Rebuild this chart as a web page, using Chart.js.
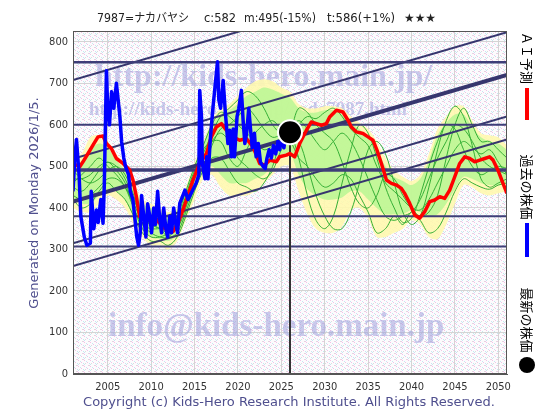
<!DOCTYPE html>
<html><head><meta charset="utf-8">
<script src="https://cdn.jsdelivr.net/npm/chart.js@4/dist/chart.umd.min.js"></script>
<style>html,body{margin:0;padding:0;background:#fff;}canvas{display:block;}</style>
</head><body>
<canvas id="c" width="560" height="420"></canvas>
<script>
// ---------- DATA ----------
const xTickLabels = [2005,2010,2015,2020,2025,2030,2035,2040,2045,2050];
const yTickLabels = [0,100,200,300,400,500,600,700,800];

const bandYears = [2001,2002,2003,2004,2005,2006,2007,2008,2009,2010,2011,2012,2013,2014,2015,2016,2017,2018,2019,2020,2021,2022,2023,2024,2025,2026,2027,2028,2029,2030,2031,2032,2033,2034,2035,2036,2037,2038,2039,2040,2041,2042,2043,2044,2045,2046,2047,2048,2049,2050,2051];

const yellowHi = [520,530,570,575,560,530,500,460,420,410,400,390,400,450,510,560,610,640,650,670,690,705,710,705,690,680,650,640,640,645,645,640,620,605,590,560,520,490,475,465,480,530,590,620,645,645,610,580,575,570,550];
const yellowLo = [400,390,390,410,430,420,400,360,330,310,310,300,320,370,420,470,480,450,430,430,430,440,460,480,500,500,440,385,350,340,340,355,395,400,375,330,330,340,350,370,360,330,325,360,410,455,450,435,430,435,440];
const greenHi  = [505,510,540,555,545,515,490,450,410,400,390,380,395,440,500,550,600,625,635,650,670,680,690,685,675,665,640,630,630,635,635,625,605,590,570,540,500,475,465,455,470,515,575,605,625,625,595,570,560,555,540];
const greenLo  = [420,410,410,430,445,440,420,380,345,330,325,320,335,385,440,490,500,480,460,460,460,470,480,500,520,530,480,445,430,420,420,425,440,440,420,400,385,385,385,395,390,380,385,410,445,475,470,460,455,455,460];

const scen1 = [470,470,480,500,510,500,470,420,380,360,350,340,350,400,470,540,560,560,520,500,540,580,600,610,590,580,520,430,370,350,380,460,540,600,580,520,450,400,365,375,430,500,560,600,590,540,500,480,490,500,495];
const scen2 = [430,420,430,450,470,470,450,410,370,360,350,330,340,390,450,500,550,590,600,620,640,620,590,570,575,570,560,500,430,380,350,350,390,460,540,560,530,460,390,360,380,450,540,610,645,620,550,470,450,460,470];
const scen3 = [490,470,460,470,490,500,480,430,360,340,330,330,360,420,480,520,560,580,560,520,500,480,470,490,540,575,600,620,615,630,640,620,590,570,550,500,460,440,420,400,395,420,460,500,540,560,545,530,540,510,480];
const scen4 = [450,440,460,490,510,490,460,400,350,330,330,340,370,430,490,530,580,620,640,660,680,670,640,600,580,590,610,590,560,540,560,580,560,520,470,420,380,370,380,390,420,470,520,560,600,590,560,520,500,490,480];
const scen5 = [420,400,410,440,460,440,420,380,340,320,320,310,330,380,440,490,520,520,490,460,450,440,460,500,560,560,520,500,470,450,460,480,470,430,390,340,350,380,360,390,370,340,350,390,440,470,460,450,445,455,460];
const scen6 = [460,480,500,520,500,480,450,400,360,350,350,350,380,440,500,550,600,630,620,600,580,560,540,550,570,585,640,630,600,580,560,510,450,410,400,430,480,470,430,400,380,390,430,520,600,640,600,560,560,540,520];

const aiYears  = [2001.0,2001.77,2002.15,2002.73,2003.3,2003.88,2004.46,2004.85,2005.42,2006.0,2006.76,2007.53,2007.91,2008.3,2008.68,2009.46,2010.22,2011.0,2011.76,2012.52,2013.1,2013.67,2014.06,2014.82,2015.6,2016.37,2016.94,2017.52,2018.1,2018.67,2019.43,2020.2,2020.98,2021.74,2022.5,2023.09,2023.66,2024.43,2024.8,2025.58,2025.97,2026.54,2027.12,2027.89,2028.46,2029.04,2029.62,2030.19,2030.57,2031.35,2032.1,2032.68,2033.07,2033.65,2034.41,2034.99,2035.56,2036.02,2036.53,2037.11,2037.68,2038.26,2038.83,2039.21,2039.79,2040.37,2040.94,2041.52,2042.1,2042.67,2043.25,2043.82,2044.4,2044.98,2045.55,2046.13,2046.71,2047.28,2047.86,2048.44,2048.99,2049.4,2049.96,2050.54,2051.0];
const aiValues = [507,499,511,531,551,571,573,555,543,519,507,491,467,427,379,371,379,363,347,343,363,395,419,467,507,531,571,595,603,587,571,563,567,547,507,503,515,511,523,527,531,523,555,587,607,603,599,603,619,635,631,611,595,583,579,571,563,539,507,467,459,455,447,435,411,383,375,391,415,419,427,423,443,475,507,523,519,511,515,519,523,515,491,459,435];

const pastYears  = [2001.0,2001.2,2001.4,2001.7,2001.9,2002.3,2002.6,2003.0,2003.1,2003.4,2003.7,2003.9,2004.2,2004.46,2004.6,2004.85,2005.0,2005.2,2005.45,2005.7,2006.0,2006.15,2006.4,2006.6,2006.85,2007.05,2007.4,2007.6,2007.9,2008.1,2008.35,2008.55,2008.75,2008.9,2009.15,2009.4,2009.6,2009.85,2010.05,2010.3,2010.5,2010.75,2011.0,2011.2,2011.45,2011.7,2011.9,2012.15,2012.35,2012.6,2012.85,2013.05,2013.3,2013.9,2014.25,2014.8,2015.2,2015.5,2015.6,2015.8,2015.9,2016.2,2016.4,2016.55,2016.8,2017.1,2017.4,2017.65,2017.8,2018.0,2018.3,2018.55,2018.85,2019.05,2019.25,2019.45,2019.6,2019.9,2020.1,2020.4,2020.6,2020.8,2021.0,2021.25,2021.45,2021.65,2021.9,2022.1,2022.35,2022.6,2022.9,2023.15,2023.35,2023.6,2023.85,2024.1,2024.35,2024.6,2024.8,2025.05,2025.3,2025.5,2025.75,2026.0];
const pastValues = [440,520,565,480,380,330,310,315,440,350,395,365,420,363,450,730,640,600,680,640,700,670,620,560,520,500,480,440,420,380,330,310,340,430,380,330,410,380,340,400,360,440,370,340,400,350,330,380,340,400,360,340,411,443,420,443,460,480,683,620,507,470,523,470,560,636,700,752,660,640,707,630,555,587,523,590,523,620,640,683,610,555,580,640,590,545,580,523,555,510,500,495,520,540,520,550,530,560,540,565,545,575,560,582];

const latestYear = [2026.0];
const latestPrice = [582];

const levelValues = [751,600,491,380,307];
const trendStart = [708,518,415,315,260];   // value of each trend line at 2001
const trendEnd   = [1013,823,720,620,565];  // value at 2051

// ---------- helpers ----------
const pts = (xs, ys) => xs.map((x,i)=>({x:x, y:ys[i]}));
const X0 = 2001, X1 = 2051;

const datasets = [];
datasets.push({data:pts(bandYears,yellowHi), borderColor:'rgba(0,0,0,0)', borderWidth:0, pointRadius:0, fill:'+1', backgroundColor:'rgba(255,248,175,0.9)', tension:0.3, order:20});
datasets.push({data:pts(bandYears,yellowLo), borderColor:'rgba(0,0,0,0)', borderWidth:0, pointRadius:0, fill:false, tension:0.3, order:20});
datasets.push({data:pts(bandYears,greenHi), borderColor:'rgba(0,0,0,0)', borderWidth:0, pointRadius:0, fill:'+1', backgroundColor:'rgba(180,246,145,0.8)', tension:0.3, order:19});
datasets.push({data:pts(bandYears,greenLo), borderColor:'rgba(0,0,0,0)', borderWidth:0, pointRadius:0, fill:false, tension:0.3, order:19});
[scen1,scen2,scen3,scen4,scen5,scen6].forEach(s=>{
  datasets.push({data:pts(bandYears,s), borderColor:'#36b036', borderWidth:1, pointRadius:0, fill:false, tension:0.35, order:15});
});
levelValues.forEach(v=>{
  const w = (v===491) ? 3.5 : (v===751 ? 2.5 : 2);
  datasets.push({data:[{x:X0,y:v},{x:X1,y:v}], borderColor:'#3e3e78', borderWidth:w, pointRadius:0, fill:false, order:10});
});
trendStart.forEach((v,i)=>{
  datasets.push({data:[{x:X0,y:v},{x:X1,y:trendEnd[i]}], borderColor:'#36366e', borderWidth:(v===415?4:2), pointRadius:0, fill:false, order:10});
});
datasets.push({data:[{x:latestYear[0],y:0},{x:latestYear[0],y:latestPrice[0]}], borderColor:'#333', borderWidth:2, pointRadius:0, fill:false, order:9});
datasets.push({data:pts(aiYears,aiValues), borderColor:'#ff0000', borderWidth:3.5, pointRadius:0, fill:false, tension:0, order:5});
datasets.push({data:pts(pastYears,pastValues), borderColor:'#0000ff', borderWidth:3.5, pointRadius:0, fill:false, tension:0, order:4});
datasets.push({type:'scatter', data:pts(latestYear,latestPrice), pointRadius:12, pointBackgroundColor:'#000', pointBorderColor:'#fff', pointBorderWidth:2, order:1});

// ---------- plugins ----------
function makePattern(ctx){
  const t = document.createElement('canvas'); t.width=6; t.height=6;
  const c = t.getContext('2d');
  c.fillStyle='#fdfbfd'; c.fillRect(0,0,6,6);
  const pink=[[0,0],[3,2],[5,5]];
  const cyan=[[2,1],[5,3],[0,4]];
  const grey=[[1,3],[4,5]];
  c.fillStyle='#f0c4e6'; pink.forEach(p=>c.fillRect(p[0],p[1],1,1));
  c.fillStyle='#c4e8f2'; cyan.forEach(p=>c.fillRect(p[0],p[1],1,1));
  c.fillStyle='#dcdcdc'; grey.forEach(p=>c.fillRect(p[0],p[1],1,1));
  return ctx.createPattern(t,'repeat');
}
const bgPlugin = {
  id:'bg',
  beforeDraw(chart){
    const {ctx, chartArea:a} = chart;
    ctx.save();
    ctx.fillStyle = makePattern(ctx);
    ctx.fillRect(a.left, a.top, a.right-a.left, a.bottom-a.top);
    ctx.restore();
  },
  beforeDatasetsDraw(chart){
    const {ctx, chartArea:a} = chart;
    ctx.save();
    ctx.beginPath(); ctx.rect(a.left,a.top,a.right-a.left,a.bottom-a.top); ctx.clip();
    ctx.fillStyle='rgba(160,160,220,0.55)';
    ctx.textBaseline='alphabetic'; ctx.textAlign='left';
    ctx.font='bold 32px "Liberation Serif", serif';
    ctx.fillText('http://kids-hero.main.jp/', 95, 86, 385);
    ctx.font='bold 19px "Liberation Serif", serif';
    ctx.fillText('http://kids-hero.main.jp/code7987.html', 89, 115, 384);
    ctx.font='bold 33px "Liberation Serif", serif';
    ctx.fillText('info@kids-hero.main.jp', 108, 336, 359);
    ctx.restore();
  },
  afterDraw(chart){
    const {ctx, chartArea:a} = chart;
    ctx.save();
    ctx.strokeStyle='#555'; ctx.lineWidth=1;
    ctx.strokeRect(a.left+0.5, a.top+0.5, a.right-a.left-1, a.bottom-a.top-1);
    ctx.fillStyle='#222'; ctx.textBaseline='middle'; ctx.textAlign='left';
    ctx.font='12px "DejaVu Sans", "Noto Sans CJK JP", sans-serif';
    ctx.fillText('7987=ナカバヤシ', 97, 19, 92);
    ctx.fillText('c:582', 204, 19, 32);
    ctx.fillText('m:495(-15%)', 244, 19, 72);
    ctx.fillText('t:586(+1%)', 327, 19, 68);
    ctx.fillText('★★★', 404, 19, 32);
    ctx.save();
    ctx.translate(35, 203); ctx.rotate(-Math.PI/2);
    ctx.textAlign='center'; ctx.fillStyle='#4f4f8e';
    ctx.font='13px "DejaVu Sans", sans-serif';
    ctx.fillText('Generated on Monday 2026/1/5.', 0, 0, 214);
    ctx.restore();
    ctx.textAlign='center'; ctx.fillStyle='#4f4f8e';
    ctx.font='13px "DejaVu Sans", sans-serif';
    ctx.fillText('Copyright (c) Kids-Hero Research Institute. All Rights Reserved.', 289, 403, 415);
    ctx.fillStyle='#000';
    ctx.font='13px "Noto Sans CJK JP", sans-serif';
    const vt = (txt, cy, len) => { ctx.save(); ctx.translate(527, cy); ctx.rotate(Math.PI/2); ctx.textAlign='center'; ctx.textBaseline='middle'; ctx.fillText(txt, 0, 0, len); ctx.restore(); };
    vt('ＡＩ予測', 58, 52);
    vt('過去の株価', 187, 68);
    vt('最新の株価', 320, 68);
    ctx.fillStyle='#ff0000'; ctx.fillRect(525, 88, 4, 32);
    ctx.fillStyle='#0000ff'; ctx.fillRect(525, 223, 4, 34);
    ctx.fillStyle='#000'; ctx.beginPath(); ctx.arc(527, 365, 8, 0, Math.PI*2); ctx.fill();
    ctx.restore();
  }
};

new Chart(document.getElementById('c'), {
  type:'line',
  data:{datasets},
  options:{
    responsive:false, animation:false, devicePixelRatio:1,
    layout:{padding:{left:0,right:53,top:31,bottom:0}},
    plugins:{legend:{display:false}, tooltip:{enabled:false}, title:{display:false}},
    elements:{line:{borderCapStyle:'butt', borderJoinStyle:'round'}},
    scales:{
      x:{type:'linear', min:X0, max:X1,
        afterBuildTicks:s=>{s.ticks = xTickLabels.map(v=>({value:v}));},
        afterFit:s=>{s.height=46;},
        grid:{color:'#d4d4d4', drawTicks:false},
        border:{display:true, color:'#555'},
        ticks:{padding:7, color:'#333', font:{family:'"DejaVu Sans Condensed","DejaVu Sans",sans-serif', size:11}, callback:v=>String(v)}},
      y:{type:'linear', min:0, max:826,
        afterBuildTicks:s=>{s.ticks = yTickLabels.map(v=>({value:v}));},
        afterFit:s=>{s.width=73;},
        grid:{color:'#d4d4d4', drawTicks:false},
        border:{display:true, color:'#555'},
        ticks:{padding:5, color:'#333', font:{family:'"DejaVu Sans Condensed","DejaVu Sans",sans-serif', size:11}, callback:v=>String(v)}}
    }
  },
  plugins:[bgPlugin]
});
</script>
</body></html>
